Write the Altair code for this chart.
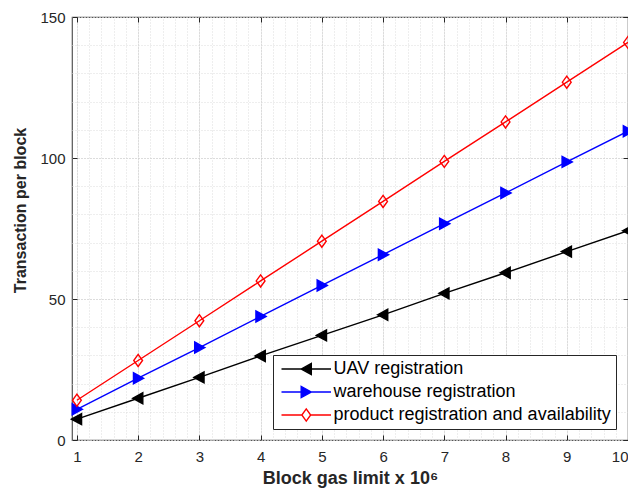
import altair as alt
import pandas as pd

# ---- data ----
gas_limit = [1, 2, 3, 4, 5, 6, 7, 8, 9, 10]
uav = [7.4, 14.8, 22.2, 29.8, 37.1, 44.4, 52.0, 59.3, 66.8, 74.2]
warehouse = [10.9, 21.9, 32.8, 43.8, 54.8, 65.7, 76.7, 87.6, 98.6, 109.5]
product = [14.1, 28.2, 42.3, 56.4, 70.5, 84.6, 98.8, 112.8, 126.9, 141.0]

series_names = ["UAV registration", "warehouse registration",
                "product registration and availability"]
series_colors = ["#000000", "#0000ff", "#ff0000"]
series_fills = ["#000000", "#0000ff", "transparent"]

x_major = [1, 2, 3, 4, 5, 6, 7, 8, 9, 10]
x_minor = [round(1 + 0.2 * i, 1) for i in range(46)]
y_major = [0, 50, 100, 150]
y_minor = [10 * i for i in range(16)]

# marker paths (unit coordinates)
tri_left = "M-1,0L0.85,-1L0.85,1Z"
tri_right = "M1,0L-0.85,-1L-0.85,1Z"
diamond = "M0,-1.1L0.8,0L0,1.1L-0.8,0Z"
series_shapes = [tri_left, tri_right, diamond]

# legend symbols: line + marker, origin at left end of the line
leg_left = "M0,0H9M3.57,0L5.42,-1L5.42,1Z"
leg_right = "M0,0H9M5.43,0L3.58,-1L3.58,1Z"
leg_diamond = "M0,0H3.7M5.3,0H9M4.5,-1.1L5.3,0L4.5,1.1L3.7,0Z"
legend_shapes = [leg_left, leg_right, leg_diamond]

rows = []
for name, vals in zip(series_names, [uav, warehouse, product]):
    for xv, yv in zip(gas_limit, vals):
        rows.append({"x": xv, "y": yv, "series": name})
df = pd.DataFrame(rows)

FONT = "Liberation Sans"
DARK = "#262626"

xscale = alt.Scale(domain=[0.92, 10], nice=False, zero=False)
yscale = alt.Scale(domain=[0, 150], nice=False, zero=False)


def stroke_scale():
    return alt.Scale(domain=series_names, range=series_colors)


def fill_scale():
    return alt.Scale(domain=series_names, range=series_fills)


x_bottom = alt.Axis(
    orient="bottom", values=x_major, grid=True, gridColor="#b8b8b8",
    gridDash=[1, 2], tickSize=5, offset=-5, tickColor=DARK, domain=False,
    labelFont=FONT, labelFontSize=15, labelColor=DARK, labelPadding=9,
    title="Block gas limit x 10⁶", titleFont=FONT, titleFontSize=18,
    titleFontWeight="bold", titleColor=DARK, titlePadding=5,
)
y_left = alt.Axis(
    orient="left", values=y_major, grid=True, gridColor="#b8b8b8",
    gridDash=[1, 2], tickSize=5, offset=-5, tickColor=DARK, domain=False,
    labelFont=FONT, labelFontSize=15, labelColor=DARK, labelPadding=7,
    title="Transaction per block", titleFont=FONT, titleFontSize=16,
    titleFontWeight="bold", titleColor=DARK, titleX=-57, titleY=193,
    titleBaseline="middle", titleAngle=-90,
)
x_top = alt.Axis(
    orient="top", values=x_minor, grid=True, gridColor="#dcdcdc",
    gridDash=[1, 2], tickSize=5, offset=-5, tickColor=DARK, domain=False,
    labels=False, title=None,
    tickOpacity={"condition": {"test": "datum.value % 1 === 0", "value": 1}, "value": 0},
)
y_right = alt.Axis(
    orient="right", values=y_minor, grid=True, gridColor="#dcdcdc",
    gridDash=[1, 2], tickSize=5, offset=-5, tickColor=DARK, domain=False,
    labels=False, title=None,
    tickOpacity={"condition": {"test": "datum.value % 50 === 0", "value": 1}, "value": 0},
)

legend = alt.Legend(
    title=None, orient="none", legendX=201, legendY=338,
    strokeColor=DARK, fillColor="white", padding=5,
    symbolSize=121, symbolStrokeWidth=1.4, symbolOffset=-5.5, symbolOpacity=1,
    labelOffset=43, labelFont=FONT, labelFontSize=18, labelColor="#000000",
    labelLimit=600, rowPadding=5,
)

lines = alt.Chart(df).mark_line(strokeWidth=1.4).encode(
    x=alt.X("x:Q", scale=xscale, axis=x_bottom),
    y=alt.Y("y:Q", scale=yscale, axis=y_left),
    stroke=alt.Stroke("series:N", scale=stroke_scale(), legend=None),
    detail="series:N",
)

points = alt.Chart(df).mark_point(size=121, strokeWidth=1.4, opacity=1).encode(
    x=alt.X("x:Q", scale=xscale, axis=x_top),
    y=alt.Y("y:Q", scale=yscale, axis=y_right),
    stroke=alt.Stroke("series:N", scale=stroke_scale(), legend=None),
    fill=alt.Fill("series:N", scale=fill_scale(), legend=None),
    shape=alt.Shape("series:N", scale=alt.Scale(domain=series_names, range=series_shapes),
                    legend=None),
)

legend_layer = alt.Chart(df).mark_point(size=121, strokeWidth=1.4, opacity=0).encode(
    x=alt.X("x:Q", scale=xscale, axis=None),
    y=alt.Y("y:Q", scale=yscale, axis=None),
    stroke=alt.Stroke("series:N", scale=stroke_scale(), legend=legend),
    fill=alt.Fill("series:N", scale=fill_scale(), legend=legend),
    shape=alt.Shape("series:N", scale=alt.Scale(domain=series_names, range=legend_shapes),
                    legend=legend),
)

chart = alt.layer(lines, points, legend_layer).resolve_axis(
    x="independent", y="independent"
).resolve_scale(
    shape="independent", stroke="independent", fill="independent"
).properties(
    width=556, height=423,
    padding={"left": 64, "top": 9, "right": 0, "bottom": 55},
    autosize=alt.AutoSizeParams(type="none"),
    background="white",
).configure_view(stroke="#555555", strokeWidth=1.2)

chart.save("out.html", embed_options={"renderer": "svg", "actions": False})
